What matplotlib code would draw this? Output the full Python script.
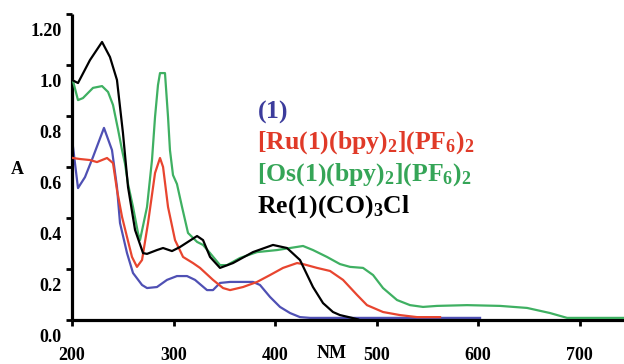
import numpy as np
import matplotlib
matplotlib.use("Agg")
import matplotlib.pyplot as plt
from matplotlib.transforms import blended_transform_factory

plt.rcParams['font.family'] = ['Liberation Serif', 'DejaVu Serif']
plt.rcParams['font.weight'] = 'bold'
plt.rcParams['mathtext.fontset'] = 'custom'
plt.rcParams['mathtext.rm'] = 'Liberation Serif:bold'
plt.rcParams['mathtext.bf'] = 'Liberation Serif:bold'
plt.rcParams['mathtext.it'] = 'Liberation Serif:bold'

# ---------------- data ----------------
re_nm = [200, 205.9, 217.7, 229.6, 237.4, 244.3, 250.2, 255.2, 262.1, 270, 273.9, 283.7,
         289.7, 298.5, 306.4, 323.2, 329.1, 336, 345.8, 358.6, 378.3, 398, 411.8, 424.6,
         437.4, 447.3, 457.1, 464, 475.9, 481.8]
re_a = [1.008, 0.996, 1.086, 1.157, 1.098, 1.008, 0.800, 0.588, 0.420, 0.329, 0.326, 0.341,
        0.349, 0.337, 0.353, 0.396, 0.380, 0.314, 0.271, 0.290, 0.333, 0.361, 0.349, 0.302,
        0.196, 0.133, 0.098, 0.086, 0.075, 0.069]

l1_nm = [201, 205.9, 212.8, 220.7, 231.5, 239.4, 244.3, 247.3, 254.2, 260.1, 269, 273.9,
         283.7, 293.6, 303.4, 313.3, 321.2, 333, 338.9, 345.8, 355.7, 378.3, 385.2, 395.1,
         404.9, 414.8, 424.6, 434.5, 602]
l1_a = [0.745, 0.584, 0.627, 0.706, 0.820, 0.733, 0.588, 0.447, 0.329, 0.251, 0.204, 0.192,
        0.196, 0.224, 0.239, 0.239, 0.224, 0.184, 0.184, 0.212, 0.216, 0.216, 0.204, 0.157,
        0.118, 0.094, 0.078, 0.075, 0.075]

ru_nm = [201, 207.9, 217.7, 224.6, 234.5, 240.4, 244.3, 249.3, 254.2, 259.1, 264, 269,
         274.9, 281.8, 286.7, 289.7, 294.6, 301.5, 309.4, 319.2, 326.1, 338.9, 348.8, 355.7,
         368.5, 382.3, 395.1, 407.9, 421.7, 427.6, 441.4, 454.2, 467, 480.8, 490.6, 506.4,
         523.1, 539.9, 562.6]
ru_a = [0.702, 0.698, 0.694, 0.686, 0.702, 0.682, 0.577, 0.471, 0.392, 0.314, 0.275, 0.302,
        0.447, 0.643, 0.702, 0.667, 0.510, 0.380, 0.314, 0.290, 0.271, 0.224, 0.192, 0.184,
        0.196, 0.216, 0.243, 0.271, 0.290, 0.286, 0.271, 0.259, 0.224, 0.165, 0.125, 0.098,
        0.086, 0.078, 0.078]

os_nm = [201, 205.9, 210.8, 220.7, 229.6, 235.5, 240.4, 245.3, 249.3, 252.2, 255.2, 260.1,
         265, 267, 273.9, 278.8, 281.8, 284.7, 286.7, 291.6, 294.6, 296.5, 299.5, 303.4,
         308.4, 314.3, 323.2, 329.1, 336, 345.8, 352.7, 365.5, 382.3, 402, 414.8, 427.6,
         437.4, 451.2, 464, 473.9, 486.7, 496.6, 506.4, 520.2, 533, 545.8, 559.6, 589.2,
         621.7, 648.3, 670.9, 687.7, 703.4, 744]
os_a = [1.004, 0.929, 0.937, 0.977, 0.984, 0.961, 0.910, 0.815, 0.733, 0.680, 0.600, 0.510,
        0.408, 0.380, 0.510, 0.694, 0.863, 0.988, 1.035, 1.035, 0.863, 0.733, 0.635, 0.600,
        0.510, 0.408, 0.373, 0.361, 0.329, 0.282, 0.282, 0.310, 0.333, 0.341, 0.349, 0.357,
        0.341, 0.314, 0.286, 0.275, 0.271, 0.243, 0.192, 0.145, 0.125, 0.118, 0.122, 0.125,
        0.122, 0.114, 0.094, 0.075, 0.075, 0.075]

y_labels = ["0.0", "0.2", "0.4", "0.6", "0.8", "1.0", "1.20"]
y_label_vals = [0.0, 0.2, 0.4, 0.6, 0.8, 1.0, 1.2]
x_ticks = [200, 300, 400, 500, 600, 700]

legend_labels = [r"$\mathbf{(1)}$",
                 r"$\mathbf{[Ru(1)(bpy)_2](PF_6)_2}$",
                 r"$\mathbf{[Os(1)(bpy)_2](PF_6)_2}$",
                 r"$\mathbf{Re(1)(CO)_3Cl}$"]

# ---------------- style ----------------
C_BLUE = "#4f50b4"
C_RED = "#e8452f"
C_GREEN = "#3fb062"
C_BLACK = "#000000"
LEG_BLUE = "#3c3c9c"
LEG_RED = "#e03a28"
LEG_GREEN = "#35a557"
OFFSET = 0.0667  # tick marks sit one third of a step above their labels

fig = plt.figure(figsize=(6.24, 3.64), dpi=100)
ax = fig.add_axes([72/624, 1-320/364, 552/624, 306/364])

lw = 1.6
ax.plot(l1_nm, l1_a, color=C_BLUE, lw=lw, zorder=2)
ax.plot(ru_nm, ru_a, color=C_RED, lw=lw, zorder=3)
ax.plot(os_nm, os_a, color=C_GREEN, lw=lw, zorder=4)
ax.plot(re_nm, re_a, color=C_BLACK, lw=lw, zorder=5)

ax.set_xlim(200, 743.8)
ax.set_ylim(OFFSET, 1.2 + OFFSET)

for s in ['top', 'right']:
    ax.spines[s].set_visible(False)
for s in ['left', 'bottom']:
    ax.spines[s].set_linewidth(2.3)
    ax.spines[s].set_capstyle('butt')

ax.set_yticks([v + OFFSET for v in y_label_vals])
ax.set_yticklabels([])
ax.tick_params(axis='y', direction='out', length=4, width=2)
ax.set_xticks(x_ticks)
ax.set_xticklabels([])
ax.tick_params(axis='x', direction='out', length=4, width=2)

xtrans = blended_transform_factory(ax.transData, fig.transFigure)
for t in x_ticks:
    ax.text(t, 1-355/364, str(t), transform=xtrans, ha='center', va='center',
            fontsize=13, fontweight='bold', clip_on=False)

trans = blended_transform_factory(ax.transAxes, ax.transData)
for v, lab in zip(y_label_vals, y_labels):
    ax.text(-10/552, v, lab, transform=trans, ha='right', va='center',
            fontsize=13, fontweight='bold', clip_on=False)

fig.text(17/624, 1-169/364, "A", ha='center', va='center', fontsize=13, fontweight='bold')
fig.text(332/624, 1-353/364, "NM", ha='center', va='center', fontsize=13, fontweight='bold')

leg_colors = [LEG_BLUE, LEG_RED, LEG_GREEN, C_BLACK]
leg_base = [118, 149, 181, 213]
for lab, c, yb in zip(legend_labels, leg_colors, leg_base):
    fig.text(257/624, 1-yb/364, lab, color=c, fontsize=18.5, ha='left', va='baseline')

fig.savefig("out.png", dpi=100)
